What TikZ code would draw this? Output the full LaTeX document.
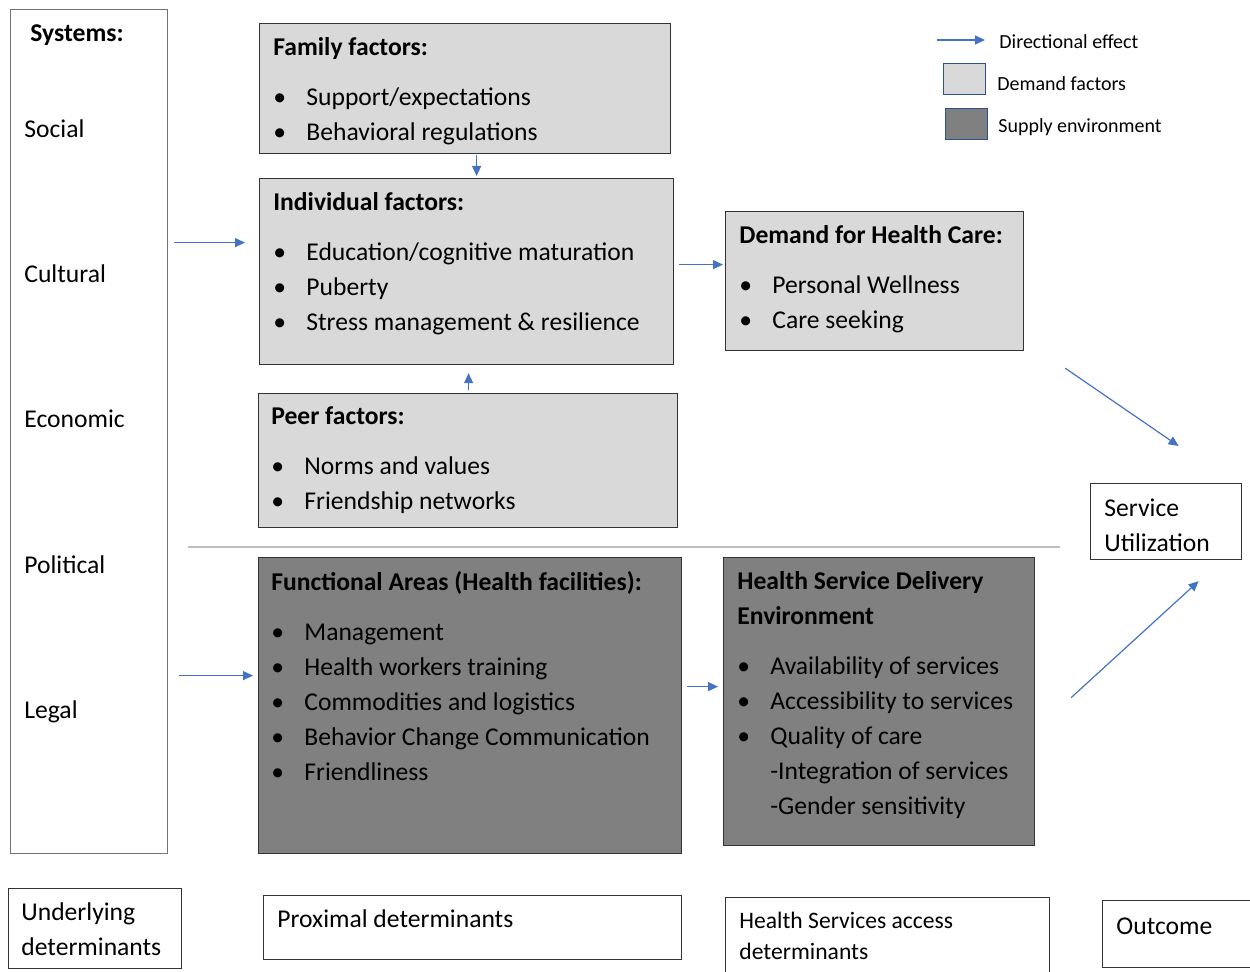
\documentclass[tikz,border=0pt]{standalone}
\usepackage{fontspec}
\setmainfont{Carlito}
\usetikzlibrary{
    positioning,
    arrows.meta,
    calc
}

\definecolor{demandgray}{HTML}{D9D9D9}
\definecolor{supplygray}{HTML}{808080}
\definecolor{arrowblue}{HTML}{4472C4}
\definecolor{legendblue}{HTML}{2F528F}
\definecolor{rulegray}{HTML}{BFBFBF}

\tikzset{
    box/.style={draw=black!80, line width=0.6pt, anchor=north west, inner sep=0pt},
    demandbox/.style={box, fill=demandgray},
    supplybox/.style={box, fill=supplygray},
    plainbox/.style={box, fill=white},
    % node top sits 10pt above the first baseline
    txt/.style={anchor=north west, align=left, inner sep=0pt,
        font=\fontsize{12.8pt}{17.5pt}\selectfont,
        execute at begin node=\rule{0pt}{10pt}},
    smalltxt/.style={txt, font=\fontsize{11.8pt}{15.5pt}\selectfont},
    legendtxt/.style={txt, font=\fontsize{10pt}{12pt}\selectfont},
    arr/.style={draw=arrowblue, line width=0.6pt, -{Triangle[length=5pt,width=4.5pt]}}
}
\newcommand{\bul}{\makebox[16.5pt][l]{\textbullet}}

\begin{document}
\begin{tikzpicture}[x=0.5pt, y=-0.5pt]
      \useasboundingbox (0,0) rectangle (1250,972);

      % Systems column
      \node[plainbox, draw=black!55, minimum width=78.5pt, minimum height=422pt] (sys) at (10,9) {};
      \node[txt] (systitle) at (30,21) {\textbf{Systems:}};
      \foreach \name/\yy in {Social/129, Cultural/274, Economic/419, Political/565, Legal/710}
        \node[txt] (sys\name) at (24,{\yy-12}) {\name};

      % Demand side
      \node[demandbox, minimum width=205.5pt, minimum height=65pt] (family) at (259,23) {};
      \node[txt] (familytxt) at (273,37) {\textbf{Family factors:}\\[7.5pt]
        \bul Support/expectations\\
        \bul Behavioral regulations};

      \node[demandbox, minimum width=207pt, minimum height=93pt] (indiv) at (259,178) {};
      \node[txt] (indivtxt) at (273,192) {\textbf{Individual factors:}\\[7.5pt]
        \bul Education/cognitive maturation\\
        \bul Puberty\\
        \bul Stress management \& resilience};

      \node[demandbox, minimum width=209.5pt, minimum height=67pt] (peer) at (258,393) {};
      \node[txt] (peertxt) at (271,406) {\textbf{Peer factors:}\\[7.5pt]
        \bul Norms and values\\
        \bul Friendship networks};

      \node[demandbox, minimum width=149pt, minimum height=69.5pt] (demand) at (725,211) {};
      \node[txt] (demandtxt) at (739,225) {\textbf{Demand for Health Care:}\\[7.5pt]
        \bul Personal Wellness\\
        \bul Care seeking};

      \draw[rulegray, line width=0.7pt] (188,547) -- (1060,547);

      % Supply side
      \node[supplybox, minimum width=211.5pt, minimum height=148pt] (func) at (258,557) {};
      \node[txt] (functxt) at (271,571) {\textbf{Functional Areas (Health facilities):}\\[7.5pt]
        \bul Management\\
        \bul Health workers training\\
        \bul Commodities and logistics\\
        \bul Behavior Change Communication\\
        \bul Friendliness};

      \node[supplybox, minimum width=155.5pt, minimum height=144pt] (hsd) at (723,557) {};
      \node[txt] (hsdtxt) at (737,571) {\textbf{Health Service Delivery}\\
        \textbf{Environment}\\[7.5pt]
        \bul Availability of services\\
        \bul Accessibility to services\\
        \bul Quality of care\\
        \hspace*{16.5pt}-Integration of services\\
        \hspace*{16.5pt}-Gender sensitivity};

      \node[plainbox, minimum width=75.5pt, minimum height=38pt] (service) at (1090,483) {};
      \node[txt] (servicetxt) at (1104,498) {Service\\Utilization};

      % Bottom labels
      \node[plainbox, minimum width=86.5pt, minimum height=40pt] (under) at (8,888) {};
      \node[txt] (undertxt) at (21,902) {Underlying\\determinants};
      \node[plainbox, minimum width=209pt, minimum height=32pt] (prox) at (263,895) {};
      \node[txt] (proxtxt) at (277,907) {Proximal determinants};
      \node[plainbox, minimum width=162pt, minimum height=40pt] (hsa) at (725,897) {};
      \node[smalltxt] (hsatxt) at (739,912) {Health Services access\\determinants};
      \node[plainbox, minimum width=75pt, minimum height=33.5pt] (outc) at (1102,900) {};
      \node[txt] (outctxt) at (1116,914) {Outcome};

      % Legend
      \coordinate (legA) at (937,40);
      \coordinate (legB) at (985,40);
      \draw[arr] (legA) -- (legB);
      \node[legendtxt] (legarrow) at (999,28) {Directional effect};
      \node[box, draw=legendblue, fill=demandgray, minimum width=21pt, minimum height=15.5pt] (legdemand) at (943,63) {};
      \node[legendtxt] (legdemandtxt) at (997,70) {Demand factors};
      \node[box, draw=legendblue, fill=supplygray, minimum width=21pt, minimum height=15.5pt] (legsupply) at (945,108) {};
      \node[legendtxt] (legsupplytxt) at (998,112) {Supply environment};

      % Directional effects
      \draw[arr] ($(family.south)+(11.5,1)$) -- ($(indiv.north)+(10,-2)$);
      \draw[arr] ($(peer.north)+(0.5,-3)$) -- ($(indiv.south)+(2,8)$);
      \draw[arr] ($(sys.east |- indiv.west)+(6,-29)$) -- ($(indiv.west)+(-14,-29)$);
      \draw[arr] ($(indiv.east)+(5,-7)$) -- ($(demand.west |- indiv.east)+(-2,-7)$);
      \draw[arr] ($(sys.east |- func.west)+(11,-30)$) -- ($(func.west)+(-5,-30)$);
      \draw[arr] ($(func.east)+(5,-19)$) -- ($(hsd.west |- func.east)+(-5,-19)$);
      \draw[arr] ($(demand.south east)+(41,17)$) -- ($(service.north)+(12.5,-37)$);
      \draw[arr] ($(hsd.east)+(36,-4)$) -- ($(service.south)+(32.5,21)$);
\end{tikzpicture}
\end{document}
